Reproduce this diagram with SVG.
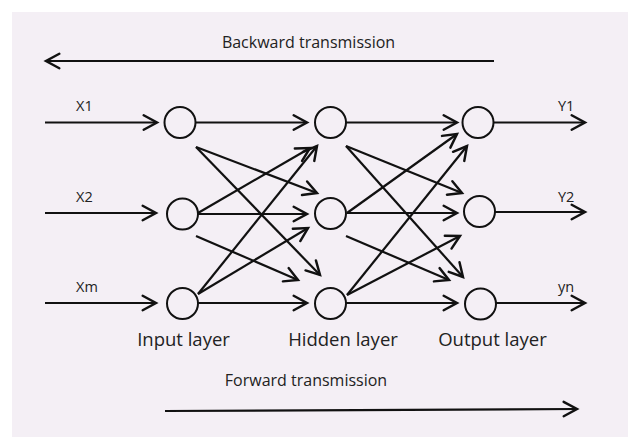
<svg xmlns="http://www.w3.org/2000/svg" width="628" height="437" viewBox="0 0 628 437">
  <style>
    .node { fill: none; stroke: #111; stroke-width: 2; }
    .edge { fill: none; stroke: #111; stroke-width: 2.2; marker-end: url(#arr); }
    .lbl { font-family: "Open Sans", "Noto Sans", sans-serif; fill: #222; }
    .io { font-size: 14.5px; }
    .layer { font-size: 18.5px; }
    .dir { font-size: 16px; }
  </style>
  <defs>
    <marker id="arr" markerUnits="userSpaceOnUse" markerWidth="20" markerHeight="20" viewBox="-14 -9 16 18" refX="0" refY="0" orient="auto">
      <path d="M-12,-6.5 L0,0 L-12,6.5" fill="none" stroke="#111" stroke-width="2.2" stroke-linecap="round" stroke-linejoin="miter"/>
    </marker>
  </defs>
  <rect x="0" y="0" width="628" height="437" fill="#ffffff"/>
  <rect x="12" y="12" width="616" height="425" fill="#f4eff5"/>

  <g id="connectors">
    <!-- transmission arrows -->
    <line class="edge" x1="494" y1="61" x2="46" y2="61"/>
    <line class="edge" x1="165" y1="411" x2="577" y2="409"/>
    <!-- inputs -->
    <line class="edge" x1="45" y1="122.5" x2="157" y2="122.5"/>
    <line class="edge" x1="45" y1="213" x2="156" y2="213"/>
    <line class="edge" x1="45" y1="303" x2="156" y2="303"/>
    <!-- input -> hidden -->
    <line class="edge" x1="196" y1="122.5" x2="307" y2="122.5"/>
    <line class="edge" x1="196" y1="147" x2="317" y2="193"/>
    <line class="edge" x1="196" y1="147" x2="320" y2="275"/>
    <line class="edge" x1="198" y1="213" x2="310" y2="148"/>
    <line class="edge" x1="198" y1="214" x2="307" y2="214"/>
    <line class="edge" x1="196" y1="236" x2="298" y2="280"/>
    <line class="edge" x1="198" y1="294" x2="317" y2="146"/>
    <line class="edge" x1="198" y1="294" x2="308" y2="228"/>
    <line class="edge" x1="198" y1="303" x2="307" y2="303"/>
    <!-- hidden -> output -->
    <line class="edge" x1="346" y1="122.5" x2="457" y2="122.5"/>
    <line class="edge" x1="346" y1="146" x2="462" y2="193"/>
    <line class="edge" x1="346" y1="146" x2="463" y2="277"/>
    <line class="edge" x1="347" y1="213" x2="457" y2="134"/>
    <line class="edge" x1="347" y1="213" x2="457" y2="213"/>
    <line class="edge" x1="346" y1="236" x2="449" y2="280"/>
    <line class="edge" x1="347" y1="295" x2="467" y2="146"/>
    <line class="edge" x1="347" y1="295" x2="460" y2="236"/>
    <line class="edge" x1="346" y1="303" x2="457" y2="303"/>
    <!-- outputs -->
    <line class="edge" x1="494" y1="122.5" x2="585" y2="122.5"/>
    <line class="edge" x1="495" y1="212" x2="585" y2="212"/>
    <line class="edge" x1="496" y1="303" x2="585" y2="303"/>
    <!-- connector labels -->
    <text class="lbl io" x="76" y="111">X1</text>
    <text class="lbl io" x="76" y="202">X2</text>
    <text class="lbl io" x="76" y="292">Xm</text>
    <text class="lbl io" x="558" y="111">Y1</text>
    <text class="lbl io" x="558" y="202">Y2</text>
    <text class="lbl io" x="558" y="292">yn</text>
    <text class="lbl dir" x="308.5" y="48" text-anchor="middle">Backward transmission</text>
    <text class="lbl dir" x="306" y="386" text-anchor="middle">Forward transmission</text>
  </g>

  <g id="input1"><circle class="node" cx="180" cy="122.5" r="15.5"/></g>
  <g id="input2"><circle class="node" cx="182.5" cy="214" r="15.5"/></g>
  <g id="input3"><circle class="node" cx="182.5" cy="303.5" r="15.5"/></g>
  <g id="hidden1"><circle class="node" cx="330.5" cy="122.5" r="15.5"/></g>
  <g id="hidden2"><circle class="node" cx="330.5" cy="213.5" r="15.5"/></g>
  <g id="hidden3"><circle class="node" cx="330.5" cy="303.5" r="15.5"/></g>
  <g id="output1"><circle class="node" cx="478" cy="122.5" r="15.5"/></g>
  <g id="output2"><circle class="node" cx="479.5" cy="211.5" r="15.5"/></g>
  <g id="output3"><circle class="node" cx="480.5" cy="304" r="15.5"/></g>

  <g id="layer-labels">
    <text class="lbl layer" x="183.5" y="346" text-anchor="middle">Input layer</text>
    <text class="lbl layer" x="343" y="346" text-anchor="middle">Hidden layer</text>
    <text class="lbl layer" x="492.5" y="346" text-anchor="middle">Output layer</text>
  </g>
</svg>
